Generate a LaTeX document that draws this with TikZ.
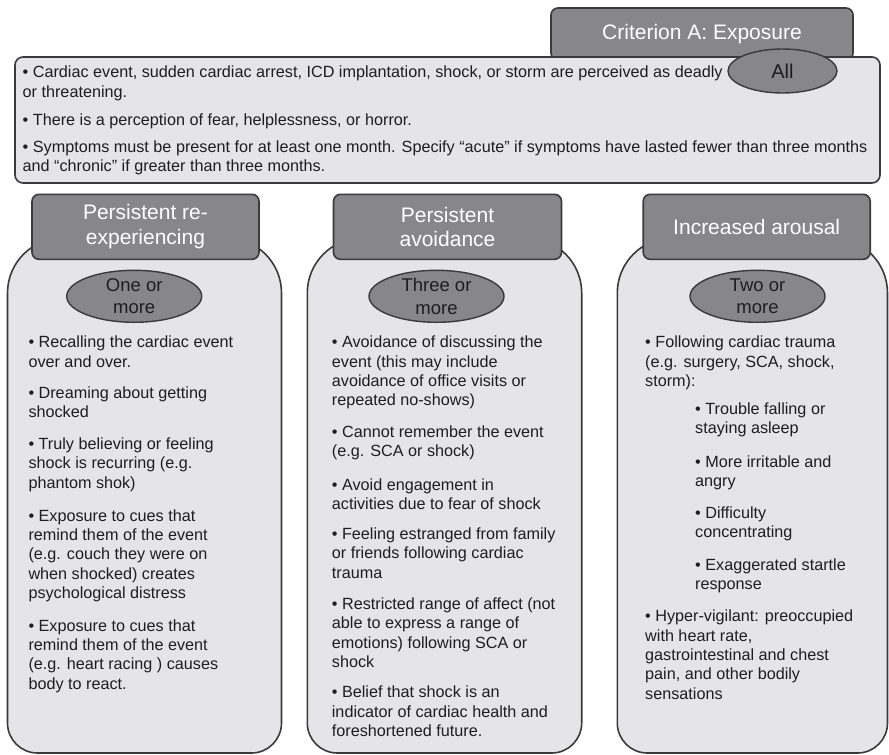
\documentclass[tikz,border=0pt]{standalone}
\usepackage{fontspec}
\setmainfont{Liberation Sans}
\usetikzlibrary{shapes.geometric}

\definecolor{boxfill}{HTML}{E5E5E7}
\definecolor{headfill}{HTML}{87878A}
\definecolor{edge}{HTML}{3A3A3A}
\definecolor{ink}{HTML}{1E1E1E}

\newcommand{\bodytext}{\fontsize{16.2}{19.4}\selectfont}
\newcommand{\colpara}[2]{\parbox[t]{#1pt}{\raggedright #2}}

\begin{document}
\begin{tikzpicture}[x=1pt, y=-1pt,
  panel/.style={draw=edge, fill=boxfill, line width=1.6pt},
  headbox/.style={draw=edge, fill=headfill, line width=1.6pt, rounded corners=7pt,
    text=white, font=\fontsize{21}{24.5}\selectfont, align=center, inner sep=0},
  badge/.style={ellipse, draw=edge, fill=headfill, line width=1.4pt, inner sep=0,
    minimum width=135pt, minimum height=52pt},
  badgetext/.style={text=ink, font=\fontsize{18.5}{22.5}\selectfont, align=center, inner sep=0},
  item/.style={anchor=base west, inner sep=0, text=ink, font=\bodytext}]

\useasboundingbox (0,0) rectangle (889,755);

% ---- Criterion A: exposure ----
\node[headbox, minimum width=302pt, minimum height=52pt] (crit) at (702,34) {Criterion A: Exposure};
\node[panel, rounded corners=8pt, minimum width=865pt, minimum height=126pt, inner sep=0] (expo) at (447.5,120) {};
\node[badge, minimum width=109pt, minimum height=44pt] (all) at (782.5,71) {};
\node[badgetext, font=\fontsize{20}{24}\selectfont] (alltxt) at (all.center) {All};

\node[item] (a1) at (22.5,77.7) {\colpara{850}{• Cardiac event, sudden cardiac arrest, ICD implantation, shock, or storm are perceived as deadly\\or threatening.}};
\node[item] (a2) at (22.5,125) {\colpara{850}{• There is a perception of fear, helplessness, or horror.}};
\node[item] (a3) at (22.5,152.3) {\colpara{850}{• Symptoms must be present for at least one month. Specify “acute” if symptoms have lasted fewer than three months\\and “chronic” if greater than three months.}};

% ---- column frames: large rounded top, smaller rounded bottom ----
\draw[panel] (7.5,600) [rounded corners=55pt] -- (7.5,238) -- (281.5,238) -- (281.5,600)
  [rounded corners=30pt] -- (281.5,753) -- (7.5,753) -- cycle;
\draw[panel] (307.3,600) [rounded corners=55pt] -- (307.3,238) -- (581.7,238) -- (581.7,600)
  [rounded corners=30pt] -- (581.7,753) -- (307.3,753) -- cycle;
\draw[panel] (617.3,600) [rounded corners=55pt] -- (617.3,238) -- (887.5,238) -- (887.5,600)
  [rounded corners=30pt] -- (887.5,753) -- (617.3,753) -- cycle;

% ---- column headers ----
\node[headbox, minimum width=227pt, minimum height=65pt] (h1) at (145.5,226.8) {Persistent re-\\experiencing};
\node[headbox, minimum width=228pt, minimum height=65pt] (h2) at (447.5,226.8) {Persistent\\avoidance};
\node[headbox, minimum width=227pt, minimum height=65pt] (h3) at (756.7,226.8) {Increased arousal};

% ---- count badges ----
\node[badge] (b1) at (134.2,296.3) {};
\node[badgetext] (b1t) at (b1.center) {One or\\more};
\node[badge] (b2) at (436.5,296.3) {};
\node[badgetext] (b2t) at (b2.center) {Three or\\more};
\node[badge] (b3) at (757.5,296.3) {};
\node[badgetext] (b3t) at (b3.center) {Two or\\more};

% ---- re-experiencing ----
\node[item] (r1) at (28.3,347.7) {\colpara{250}{• Recalling the cardiac event\\over and over.}};
\node[item] (r2) at (28.3,398.5) {\colpara{250}{• Dreaming about getting\\shocked}};
\node[item] (r3) at (28.3,449.5) {\colpara{250}{• Truly believing or feeling\\shock is recurring (e.g.\\phantom shok)}};
\node[item] (r4) at (28.3,521) {\colpara{250}{• Exposure to cues that\\remind them of the event\\(e.g. couch they were on\\when shocked) creates\\psychological distress}};
\node[item] (r5) at (28.3,631) {\colpara{250}{• Exposure to cues that\\remind them of the event\\(e.g. heart racing ) causes\\body to react.}};

% ---- avoidance ----
\node[item] (v1) at (331.7,347.7) {\colpara{245}{• Avoidance of discussing the\\event (this may include\\avoidance of office visits or\\repeated no-shows)}};
\node[item] (v2) at (331.7,437.5) {\colpara{245}{• Cannot remember the event\\(e.g. SCA or shock)}};
\node[item] (v3) at (331.7,490) {\colpara{245}{• Avoid engagement in\\activities due to fear of shock}};
\node[item] (v4) at (331.7,539.3) {\colpara{245}{• Feeling estranged from family\\or friends following cardiac\\trauma}};
\node[item] (v5) at (331.7,609.2) {\colpara{245}{• Restricted range of affect (not\\able to express a range of\\emotions) following SCA or\\shock}};
\node[item] (v6) at (331.7,697.7) {\colpara{245}{• Belief that shock is an\\indicator of cardiac health and\\foreshortened future.}};

% ---- arousal ----
\node[item] (u1) at (645,347.7) {\colpara{235}{• Following cardiac trauma\\(e.g. surgery, SCA, shock,\\storm):}};
\node[item] (u2) at (695,414) {\colpara{185}{• Trouble falling or\\staying asleep}};
\node[item] (u3) at (695,467) {\colpara{185}{• More irritable and\\angry}};
\node[item] (u4) at (695,518.5) {\colpara{185}{• Difficulty\\concentrating}};
\node[item] (u5) at (695,570) {\colpara{185}{• Exaggerated startle\\response}};
\node[item] (u6) at (645,621.7) {\colpara{235}{• Hyper-vigilant: preoccupied\\with heart rate,\\gastrointestinal and chest\\pain, and other bodily\\sensations}};

\end{tikzpicture}
\end{document}
